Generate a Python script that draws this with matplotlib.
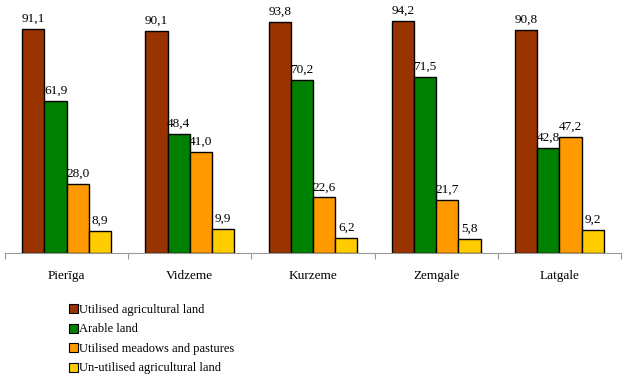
import matplotlib
matplotlib.use("Agg")
import matplotlib.pyplot as plt
import numpy as np
from matplotlib.patches import Patch

regions = ["Pierīga", "Vidzeme", "Kurzeme", "Zemgale", "Latgale"]
series_names = ["Utilised agricultural land", "Arable land",
                "Utilised meadows and pastures", "Un-utilised agricultural land"]
utilised = [91.1, 90.1, 93.8, 94.2, 90.8]
arable = [61.9, 48.4, 70.2, 71.5, 42.8]
meadows = [28.0, 41.0, 22.6, 21.7, 47.2]
unutilised = [8.9, 9.9, 6.2, 5.8, 9.2]
colors = ["#993300", "#008000", "#FF9900", "#FFCC00"]

plt.rcParams['font.family'] = ['Liberation Serif', 'DejaVu Serif']

fig = plt.figure(figsize=(6.27, 3.76), dpi=100)
W, H = 627, 376
ax = fig.add_axes([5 / W, 1 - 253 / H, 616 / W, 246 / H])

data = [utilised, arable, meadows, unutilised]
x = np.arange(len(regions))
bw = 0.18
for i, (vals, c) in enumerate(zip(data, colors)):
    pos = x + (i - 1.5) * bw
    ax.bar(pos, vals, width=bw, color=c, edgecolor="black", linewidth=1.0)
    for xp, v in zip(pos, vals):
        ax.annotate(f"{v:.1f}".replace(".", ","), (xp, v), xytext=(0, 3),
                    textcoords="offset points", ha="center", va="bottom", fontsize=9.5)

ax.set_xlim(-0.5, len(regions) - 0.5)
ax.set_ylim(0, 100)
for s in ["top", "left", "right"]:
    ax.spines[s].set_visible(False)
ax.spines["bottom"].set_color("#999999")
ax.set_yticks([])
ax.set_xticks(np.arange(-0.5, len(regions), 1.0))
ax.set_xticklabels([])
ax.tick_params(axis="x", length=4, color="#999999")
for xi, r in zip(x, regions):
    ax.text(xi, -9.5, r, ha="center", va="center", fontsize=9.5)

handles = [Patch(facecolor=c, edgecolor="black", linewidth=0.8) for c in colors]
fig.legend(handles, series_names, loc="upper left", bbox_to_anchor=(64 / W, 1 - 299 / H),
           frameon=False, fontsize=9, handlelength=0.7, handleheight=0.7,
           handletextpad=0.12, labelspacing=0.6, borderaxespad=0)

fig.savefig("out.png", dpi=100)
